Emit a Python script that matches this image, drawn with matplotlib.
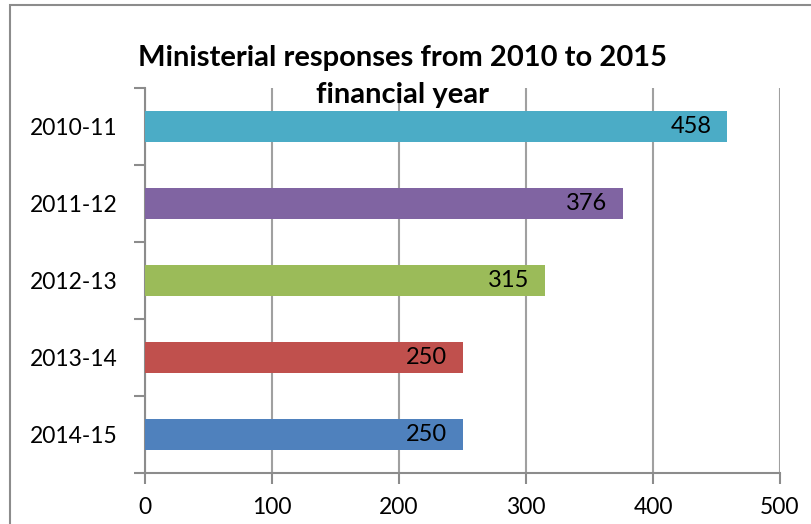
import numpy as np
import matplotlib
matplotlib.use("Agg")
import matplotlib.pyplot as plt
from matplotlib.patches import Rectangle

plt.rcParams['font.family'] = ['Lato', 'DejaVu Sans']

# data
years = ['2010-11', '2011-12', '2012-13', '2013-14', '2014-15']
responses = [458, 376, 315, 250, 250]
colors = ['#4BACC6', '#8064A2', '#9BBB59', '#C0504D', '#4F81BD']

fig = plt.figure(figsize=(8.11, 5.24), dpi=100)
ax = fig.add_axes([145 / 811, 1 - 473 / 524, 635 / 811, 385 / 524])

# outer chart frame (left + top visible)
fig.patches.append(Rectangle((10 / 811, -0.1), 1.2, 1 - 5 / 524 + 0.1,
                             transform=fig.transFigure, fill=False,
                             edgecolor='#8c8c8c', linewidth=1.5))

ypos = np.arange(len(years))
bars = ax.barh(ypos, responses, height=0.4, color=colors, zorder=3)

# value labels, inside end
for b, v in zip(bars, responses):
    ax.annotate(str(v), (b.get_width(), b.get_y() + b.get_height() / 2),
                xytext=(-11, 0), textcoords='offset points',
                ha='right', va='center', fontsize=17, color='black', zorder=4)

ax.set_xlim(0, 500)
ax.set_ylim(len(years) - 0.5, -0.5)
ax.set_xticks(np.arange(0, 501, 100))
ax.set_yticks(ypos)
ax.set_yticklabels(years)
ax.set_yticks(np.arange(-0.5, len(years), 1), minor=True)

ax.grid(axis='x', color='#a0a0a0', linewidth=1.5, zorder=0)
for s in ['top', 'right']:
    ax.spines[s].set_visible(False)
for s in ['left', 'bottom']:
    ax.spines[s].set_color('#8c8c8c')
    ax.spines[s].set_linewidth(1.5)

ax.tick_params(axis='y', which='major', length=0, pad=20, labelsize=16.5)
ax.tick_params(axis='y', which='minor', length=8, width=1.5, color='#8c8c8c')
ax.tick_params(axis='x', which='major', length=8, width=1.5, color='#8c8c8c',
               pad=9, labelsize=16.5)

fig.text(402 / 811, 1 - 58 / 524, 'Ministerial responses from 2010 to 2015',
         ha='center', va='center', fontsize=21, fontweight='bold')
fig.text(402 / 811, 1 - 95 / 524, 'financial year',
         ha='center', va='center', fontsize=21, fontweight='bold')

fig.savefig('out.png', dpi=100)
